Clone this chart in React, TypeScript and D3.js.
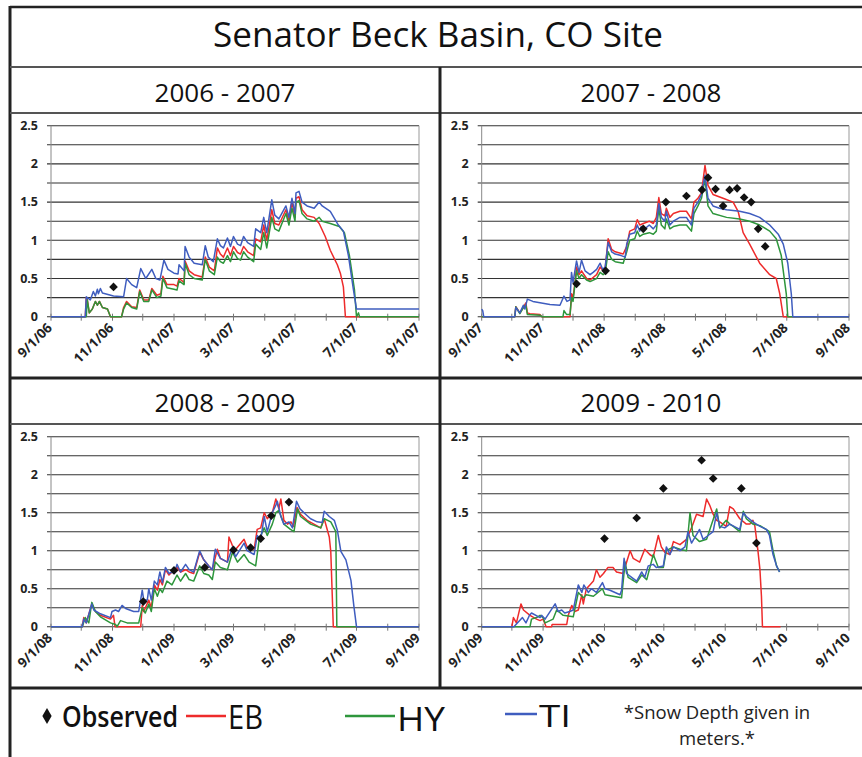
import * as d3 from 'd3'

// [days since Sep 1, snow depth (m)]
type Pt = [number, number]

const TITLE = 'Senator Beck Basin, CO Site'
const SEASONS = ['2006 - 2007', '2007 - 2008', '2008 - 2009', '2009 - 2010']
const START_YEARS = [2006, 2007, 2008, 2009]
const Y_LABELS = [0, 0.5, 1, 1.5, 2, 2.5]
const GRID_VALUES = [0, 0.25, 0.5, 0.75, 1, 1.25, 1.5, 1.75, 2, 2.25, 2.5]

const COLORS = { EB: '#ee2b2b', HY: '#2e963c', TI: '#3f5dbf', OBS: '#111' }

// 2006 - 2007
const eb0607: Pt[] = [[0,0],[34,0],[35,0.25],[36,0.22],[38,0.05],[41,0.1],[44,0.2],[46,0.15],[48,0.2],[51,0.12],[56,0.1],[59,0],[70,0],[72,0.12],[75,0.2],[80,0.13],[85,0.12],[88,0.35],[92,0.22],[97,0.22],[100,0.37],[105,0.28],[109,0.3],[111,0.53],[115,0.42],[122,0.42],[125,0.4],[127,0.5],[132,0.45],[133,0.73],[137,0.6],[142,0.55],[150,0.52],[153,0.78],[157,0.65],[162,0.6],[165,0.9],[168,0.82],[171,0.78],[175,0.9],[178,0.8],[181,0.92],[185,0.84],[188,0.82],[191,0.92],[195,0.85],[201,0.8],[203,1.02],[208,0.98],[211,1.2],[214,1.0],[219,1.4],[222,1.22],[226,1.2],[233,1.4],[236,1.25],[239,1.5],[242,1.3],[243,1.55],[246,1.57],[249,1.4],[254,1.32],[261,1.3],[266,1.22],[272,1.05],[277,0.87],[281,0.76],[284,0.68],[287,0.57],[290,0.39],[292,0],[365,0]]
const hy0607: Pt[] = [[0,0],[35,0],[36,0.22],[38,0.05],[41,0.1],[44,0.2],[46,0.15],[48,0.2],[51,0.12],[56,0.1],[59,0],[70,0],[72,0.1],[75,0.18],[80,0.12],[85,0.1],[88,0.33],[92,0.2],[97,0.2],[100,0.35],[105,0.25],[109,0.27],[111,0.5],[115,0.38],[122,0.36],[125,0.35],[127,0.47],[132,0.42],[133,0.7],[137,0.55],[142,0.5],[150,0.48],[153,0.75],[157,0.6],[162,0.55],[165,0.78],[168,0.72],[171,0.7],[175,0.8],[178,0.72],[181,0.85],[185,0.76],[188,0.74],[191,0.85],[195,0.78],[201,0.72],[203,0.95],[208,0.88],[211,1.1],[214,0.9],[219,1.3],[222,1.15],[226,1.12],[233,1.35],[236,1.2],[239,1.42],[242,1.25],[243,1.5],[246,1.52],[249,1.35],[254,1.28],[261,1.25],[266,1.3],[269,1.25],[277,1.22],[286,1.18],[291,1.1],[296,0.8],[301,0.35],[303,0],[305,0.05],[306,0],[365,0]]
const ti0607: Pt[] = [[0,0],[34,0],[35,0.26],[39,0.22],[42,0.33],[44,0.27],[46,0.36],[47,0.3],[49,0.37],[51,0.31],[62,0.27],[72,0.26],[75,0.5],[80,0.42],[85,0.38],[89,0.63],[94,0.5],[100,0.62],[104,0.5],[108,0.48],[112,0.74],[116,0.62],[122,0.57],[126,0.56],[127,0.68],[132,0.6],[133,0.92],[137,0.78],[142,0.7],[150,0.68],[153,0.93],[156,0.78],[161,0.72],[165,1.02],[168,0.93],[171,0.9],[175,1.03],[178,0.92],[181,1.05],[185,0.95],[188,0.93],[191,1.05],[195,0.97],[201,0.92],[203,1.15],[208,1.1],[211,1.3],[214,1.1],[219,1.53],[222,1.33],[226,1.28],[233,1.45],[236,1.3],[239,1.55],[242,1.35],[243,1.62],[246,1.64],[249,1.5],[254,1.45],[261,1.42],[266,1.5],[269,1.45],[277,1.38],[285,1.2],[290,1.12],[295,0.8],[300,0.35],[303,0.1],[365,0.1]]
const obs0607: Pt[] = [[62,0.39]]

// 2007 - 2008
const eb0708: Pt[] = [[0,0],[33,0],[34,0.13],[38,0.05],[41.5,0.12],[44,0.18],[45.5,0.05],[48,0.04],[58,0.03],[60,0],[88,0],[89.5,0.3],[91,0.25],[93,0.45],[94.5,0.65],[97,0.55],[99.5,0.6],[104.5,0.5],[108,0.48],[114.5,0.55],[118,0.65],[121,0.6],[123,0.62],[126,1.02],[129.5,0.88],[133,0.85],[141,0.82],[144.5,0.92],[147.5,1.12],[152.5,1.15],[155,1.27],[157.5,1.2],[161,1.22],[167,1.25],[171,1.22],[174,1.3],[176.5,1.56],[179,1.35],[182.5,1.32],[184,1.42],[187.5,1.3],[191,1.35],[197.5,1.38],[204,1.38],[209,1.28],[211.5,1.5],[215.5,1.55],[219,1.62],[222.5,1.98],[225.5,1.72],[230.5,1.6],[240.5,1.55],[250.5,1.5],[255.5,1.38],[260.5,1.1],[267,0.95],[277,0.7],[287,0.55],[293.5,0.5],[297,0.3],[300.5,0],[366,0]]
const hy0708: Pt[] = [[0,0],[33,0],[34,0.13],[38,0.04],[41.5,0.12],[44,0.15],[45.5,0.03],[58,0.02],[60,0],[81,0],[82,0.08],[84.5,0.03],[88,0.03],[89.5,0.25],[91,0.2],[94.5,0.6],[97,0.5],[99.5,0.55],[104.5,0.48],[108,0.46],[114.5,0.5],[118,0.58],[121,0.55],[123,0.57],[126,0.85],[129.5,0.75],[133,0.72],[141,0.7],[144.5,0.85],[147.5,1.0],[152.5,1.02],[155,1.12],[157.5,1.05],[161,1.08],[167,1.1],[171,1.08],[174,1.12],[176.5,1.42],[179,1.2],[182.5,1.15],[184,1.28],[187.5,1.15],[191,1.18],[197.5,1.2],[204,1.2],[209,1.12],[211.5,1.35],[215.5,1.45],[219,1.55],[222.5,1.8],[225.5,1.45],[230.5,1.35],[244,1.3],[257,1.28],[267,1.25],[277,1.2],[287,1.12],[293.5,1.02],[298.5,0.8],[303.5,0.3],[305,0],[366,0]]
const ti0708: Pt[] = [[0,0.1],[1,0.08],[2,0],[33,0],[34,0.12],[38,0.05],[41.5,0.15],[43,0.1],[45.5,0.23],[51,0.2],[68,0.16],[78,0.15],[82,0.27],[85,0.2],[88,0.22],[89.5,0.58],[91,0.45],[94.5,0.73],[97,0.58],[99.5,0.74],[103,0.6],[108,0.55],[111,0.58],[114.5,0.62],[118,0.7],[120.5,0.62],[123,0.65],[126,0.97],[129.5,0.85],[133,0.82],[139,0.8],[143,0.78],[144.5,0.95],[147.5,1.08],[152.5,1.1],[155,1.2],[157.5,1.12],[159,1.18],[162.5,1.15],[167,1.2],[171,1.15],[174,1.2],[176.5,1.48],[179,1.3],[182.5,1.25],[184,1.38],[187.5,1.2],[191,1.25],[197.5,1.3],[204,1.3],[209,1.2],[211.5,1.42],[215.5,1.5],[219,1.6],[222.5,1.85],[225.5,1.55],[230.5,1.45],[237,1.42],[244,1.4],[257,1.38],[267,1.35],[277,1.3],[287,1.2],[295.5,1.08],[300.5,0.95],[305,0.7],[308.5,0.3],[310,0],[366,0]]
const obs0708: Pt[] = [[94.5,0.43],[123.5,0.6],[161,1.15],[183.5,1.5],[204,1.58],[219.5,1.66],[225.5,1.82],[233,1.67],[240.5,1.45],[247,1.66],[254.5,1.68],[261.5,1.56],[268.5,1.5],[275.5,1.15],[282.5,0.92]]

// 2008 - 2009
const eb0809: Pt[] = [[0,0],[31,0],[32.5,0.12],[35,0.05],[40.5,0.3],[44,0.2],[49,0.15],[59,0.1],[62,0.15],[63.5,0],[89,0],[90.5,0.28],[92,0.2],[97,0.35],[99.5,0.25],[102.5,0.55],[105.5,0.48],[108,0.62],[110.5,0.55],[113.5,0.75],[117,0.68],[120,0.72],[125,0.78],[128.5,0.72],[133.5,0.75],[137,0.72],[141.5,0.7],[147.5,0.98],[151.5,0.88],[156.5,0.8],[160,0.75],[165,1.02],[168,0.9],[175,0.85],[176.5,1.18],[182,1.0],[191.5,1.15],[194.5,1.05],[201.5,1.02],[204.5,1.28],[208,1.3],[211.5,1.5],[214.5,1.42],[219.5,1.5],[223,1.68],[226,1.55],[228,1.68],[231,1.4],[234.5,1.35],[238,1.38],[240.5,1.32],[244,1.57],[247.5,1.48],[254,1.4],[267.5,1.3],[271,1.42],[276,1.18],[277.5,0.99],[280,0],[365,0]]
const hy0809: Pt[] = [[0,0],[31,0],[34,0.12],[37.5,0.05],[40.5,0.32],[44,0.2],[49,0.13],[59,0.05],[64,0.03],[65.5,0],[69,0.08],[75.5,0.05],[87,0.05],[90.5,0.25],[93.5,0.18],[97,0.3],[99.5,0.2],[102.5,0.5],[105.5,0.4],[108,0.5],[110.5,0.45],[115,0.6],[120,0.55],[125,0.68],[128.5,0.6],[133.5,0.7],[137,0.62],[141.5,0.6],[147.5,0.8],[151.5,0.7],[156.5,0.68],[160,0.62],[163,0.85],[168,0.78],[175,0.75],[180,0.98],[185,0.85],[191.5,0.95],[196.5,0.85],[203,0.8],[206.5,1.15],[211.5,1.3],[214.5,1.2],[219.5,1.35],[223,1.5],[226,1.53],[231,1.35],[237.5,1.28],[241,1.25],[244.5,1.55],[247.5,1.45],[257.5,1.35],[267.5,1.3],[271,1.42],[277.5,1.38],[282.5,1.25],[283.5,0],[365,0]]
const ti0809: Pt[] = [[0,0],[31,0],[32.5,0.1],[35,0.05],[40.5,0.3],[42.5,0.22],[49,0.17],[59,0.12],[60.5,0.2],[64,0.22],[67,0.2],[70.5,0.28],[74,0.24],[82,0.2],[87,0.2],[90.5,0.48],[92,0.35],[95.5,0.35],[97,0.5],[99.5,0.35],[102.5,0.6],[105.5,0.55],[108,0.72],[110.5,0.58],[113.5,0.78],[117,0.7],[120,0.72],[122,0.7],[125,0.82],[128.5,0.72],[133.5,0.82],[137,0.75],[141.5,0.72],[147.5,1.0],[151.5,0.88],[156.5,0.8],[160,0.75],[163,1.02],[168,0.9],[175,0.85],[180,1.05],[183,0.92],[191.5,1.1],[194.5,1.0],[201.5,0.95],[204.5,1.2],[208,1.15],[211.5,1.45],[214.5,1.25],[219.5,1.5],[223,1.6],[224.5,1.65],[228,1.45],[231,1.35],[236,1.38],[239.5,1.3],[243.5,1.65],[247,1.55],[252.5,1.48],[257.5,1.42],[264,1.38],[269,1.37],[271,1.52],[276,1.45],[281,1.4],[284,1.27],[287.5,0.99],[292.5,0.88],[297.5,0.61],[300.5,0.26],[303,0],[365,0]]
const obs0809: Pt[] = [[91.5,0.33],[122,0.74],[152.5,0.78],[181,1.01],[198,1.04],[208,1.16],[218.5,1.46],[236,1.64]]

// 2009 - 2010
const eb0910: Pt[] = [[0,0],[30,0],[31.5,0.12],[34.5,0.05],[39,0.3],[41.5,0.22],[48,0.15],[54.5,0.1],[58,0.08],[61,0.1],[64,0],[69.5,0],[70,0.03],[84.5,0.03],[86,0.15],[89.5,0.28],[92.5,0.2],[96,0.22],[99.5,0.42],[101,0.3],[104,0.5],[107.5,0.55],[111,0.6],[114,0.75],[117.5,0.65],[121,0.7],[125.5,0.78],[130.5,0.78],[134,0.72],[140.5,0.7],[147.5,1.0],[150.5,0.9],[157,0.85],[162,1.02],[167,0.95],[170.5,0.92],[175.5,1.2],[178.5,1.05],[182,0.98],[187,0.95],[190.5,1.12],[197,1.08],[203.5,1.15],[208.5,1.3],[213.5,1.48],[220,1.45],[223.5,1.68],[226.5,1.6],[230,1.48],[233.5,1.4],[236.5,1.38],[243,1.32],[246.5,1.58],[250,1.55],[256.5,1.42],[263,1.35],[266.5,1.35],[269.5,1.4],[271.5,1.32],[274.5,1.0],[276.5,0.75],[278,0.4],[279,0],[297,0]]
const hy0910: Pt[] = [[0,0],[48,0],[49.5,0.1],[54.5,0.12],[58,0.15],[61,0.12],[63,0.05],[71,0.1],[74.5,0.22],[81,0.15],[91,0.13],[96,0.45],[101,0.38],[104,0.42],[111,0.4],[120,0.5],[122.5,0.42],[130.5,0.4],[139,0.38],[142.5,0.85],[145.5,0.65],[154,0.58],[159,0.68],[164,0.62],[170.5,0.95],[175.5,0.78],[180.5,0.78],[183.5,1.0],[190.5,1.05],[197,1.02],[203.5,1.0],[207,1.5],[210,1.2],[216.5,1.12],[223.5,1.15],[233.5,1.55],[236.5,1.3],[243,1.4],[246.5,1.35],[250,1.32],[256.5,1.25],[260,1.52],[263,1.42],[269.5,1.35],[276.5,1.33],[286,1.25],[289.5,1.0],[293,0.8],[296,0.72]]
const ti0910: Pt[] = [[0,0],[32,0],[40.5,0.12],[44,0.05],[47.5,0.15],[49.5,0.18],[58,0.12],[59.5,0.15],[63,0.1],[73,0.3],[76,0.2],[79.5,0.22],[82.5,0.18],[87.5,0.2],[91,0.22],[96,0.55],[99.5,0.45],[101.5,0.55],[106,0.45],[109,0.5],[114,0.45],[120,0.58],[122.5,0.5],[127.5,0.48],[137.5,0.42],[139,0.48],[141.5,0.9],[144,0.7],[149,0.65],[154,0.6],[159,0.72],[162,0.65],[165.5,0.8],[170.5,0.82],[173.5,0.78],[180.5,0.8],[183.5,1.05],[187,0.95],[190.5,1.05],[197,1.0],[202,1.05],[205,1.25],[208.5,1.1],[216.5,1.28],[220,1.15],[225,1.2],[230,1.25],[233.5,1.5],[236.5,1.32],[241.5,1.3],[246.5,1.35],[256.5,1.28],[260,1.5],[263,1.45],[269.5,1.38],[276.5,1.32],[283,1.28],[286,1.2],[289.5,0.95],[293,0.8],[296,0.72]]
const obs0910: Pt[] = [[122,1.16],[154,1.43],[180.5,1.82],[218.5,2.19],[230,1.95],[258,1.82],[273,1.1]]

const SERIES = [
  { eb: eb0607, hy: hy0607, ti: ti0607, obs: obs0607 },
  { eb: eb0708, hy: hy0708, ti: ti0708, obs: obs0708 },
  { eb: eb0809, hy: hy0809, ti: ti0809, obs: obs0809 },
  { eb: eb0910, hy: hy0910, ti: ti0910, obs: obs0910 },
]

// plot boxes in page pixels
const BOXES = [
  { left: 51, right: 419, top: 125.7, bottom: 316.7, cx: 225, titleY: 102 },
  { left: 481.7, right: 849, top: 125.7, bottom: 316.7, cx: 651, titleY: 102 },
  { left: 51, right: 419, top: 436.7, bottom: 626.7, cx: 225, titleY: 412 },
  { left: 481.7, right: 849, top: 436.7, bottom: 626.7, cx: 651, titleY: 412 },
]

const FONT = '"Open Sans", sans-serif'
const fmt = d3.timeFormat('%-m/%-d/%y')

function Panel({ i }: { i: number }) {
  const box = BOXES[i]
  const s = SERIES[i]
  const start = new Date(START_YEARS[i], 8, 1)
  const end = new Date(START_YEARS[i] + 1, 8, 1)
  const x = d3.scaleTime().domain([start, end]).range([box.left, box.right])
  const y = d3.scaleLinear().domain([0, 2.5]).range([box.bottom, box.top])
  const toDate = (d: number) => new Date(start.getTime() + d * 864e5)
  const line = d3.line<Pt>().x(d => x(toDate(d[0]))).y(d => y(d[1]))
  const months = d3.timeMonth.range(start, d3.timeDay.offset(end, 1))
  const diamond = d3.symbol(d3.symbolDiamond2, 48)()

  return (
    <g>
      <text x={box.cx} y={box.titleY} textAnchor="middle" fontFamily={FONT} fontSize={26} fill="#111">
        {SEASONS[i]}
      </text>
      {GRID_VALUES.map(v => (
        <line key={v} x1={box.left - 4} x2={box.right} y1={y(v)} y2={y(v)} stroke="#333" strokeWidth={1.1} />
      ))}
      <line x1={box.left} x2={box.left} y1={box.top} y2={box.bottom} stroke="#888" />
      <line x1={box.right} x2={box.right} y1={box.top} y2={box.bottom} stroke="#999" />
      {Y_LABELS.map(v => (
        <text key={v} x={box.left - 13} y={y(v)} dy="0.35em" textAnchor="end"
          fontFamily={FONT} fontWeight={700} fontSize={12.5} fill="#222">{v}</text>
      ))}
      {months.map((m, k) => (
        <g key={k}>
          <line x1={x(m)} x2={x(m)} y1={box.bottom - 3} y2={box.bottom + 4} stroke="#777" />
          {k % 2 === 0 && (
            <text transform={`translate(${x(m) + 2},${box.bottom + 12}) rotate(-45)`} textAnchor="end"
              fontFamily={FONT} fontWeight={700} fontSize={13.5} fill="#222">{fmt(m)}</text>
          )}
        </g>
      ))}
      <path d={line(s.eb) ?? ''} fill="none" stroke={COLORS.EB} strokeWidth={1.5} strokeLinejoin="round" />
      <path d={line(s.hy) ?? ''} fill="none" stroke={COLORS.HY} strokeWidth={1.5} strokeLinejoin="round" />
      <path d={line(s.ti) ?? ''} fill="none" stroke={COLORS.TI} strokeWidth={1.5} strokeLinejoin="round" />
      {s.obs.map((d, k) => (
        <path key={k} d={diamond ?? ''} transform={`translate(${x(toDate(d[0]))},${y(d[1])})`} fill={COLORS.OBS} />
      ))}
    </g>
  )
}

export default function App() {
  const legendDiamond = d3.symbol(d3.symbolDiamond, 75)()
  return (
    <svg width={862} height={757} style={{ position: 'absolute', left: 0, top: 0, background: '#fff' }}>
      <rect width={862} height={757} fill="#fff" />
      <text x={438} y={47} textAnchor="middle" fontFamily={FONT} fontSize={35} fill="#111"
        textLength={450} lengthAdjust="spacingAndGlyphs">{TITLE}</text>

      {[0, 1, 2, 3].map(i => <Panel key={i} i={i} />)}

      {/* frame */}
      <line x1={10} x2={862} y1={7} y2={7} stroke="#222" strokeWidth={2.5} />
      <line x1={10} x2={10} y1={6} y2={757} stroke="#222" strokeWidth={3} />
      <line x1={10} x2={862} y1={67} y2={67} stroke="#555" strokeWidth={2} />
      <line x1={10} x2={862} y1={113} y2={113} stroke="#555" strokeWidth={2} />
      <line x1={10} x2={862} y1={378} y2={378} stroke="#222" strokeWidth={3} />
      <line x1={10} x2={862} y1={424} y2={424} stroke="#555" strokeWidth={2} />
      <line x1={10} x2={862} y1={688} y2={688} stroke="#222" strokeWidth={3} />
      <line x1={440} x2={440} y1={67} y2={688} stroke="#222" strokeWidth={3} />

      {/* legend */}
      <path d={legendDiamond ?? ''} transform="translate(47,716)" fill="#111" />
      <text x={62} y={727} fontFamily={FONT} fontWeight={600} fontSize={28} fill="#111" textLength={116} lengthAdjust="spacingAndGlyphs">Observed</text>
      <line x1={186} x2={226} y1={716} y2={716} stroke={COLORS.EB} strokeWidth={2.5} />
      <text x={228} y={729} fontFamily={FONT} fontSize={33} fill="#111" textLength={35} lengthAdjust="spacingAndGlyphs">EB</text>
      <line x1={345} x2={395} y1={716} y2={716} stroke={COLORS.HY} strokeWidth={2.5} />
      <text x={397} y={731} fontFamily={FONT} fontSize={33} fill="#111" textLength={48} lengthAdjust="spacingAndGlyphs">HY</text>
      <line x1={505} x2={537} y1={714} y2={714} stroke={COLORS.TI} strokeWidth={2.5} />
      <text x={539} y={727} fontFamily={FONT} fontSize={31} fill="#111" textLength={32} lengthAdjust="spacingAndGlyphs">TI</text>
      <text x={717} y={719} textAnchor="middle" fontFamily={FONT} fontSize={18.5} fill="#222">*Snow Depth given in</text>
      <text x={717} y={745} textAnchor="middle" fontFamily={FONT} fontSize={18.5} fill="#222">meters.*</text>
    </svg>
  )
}
